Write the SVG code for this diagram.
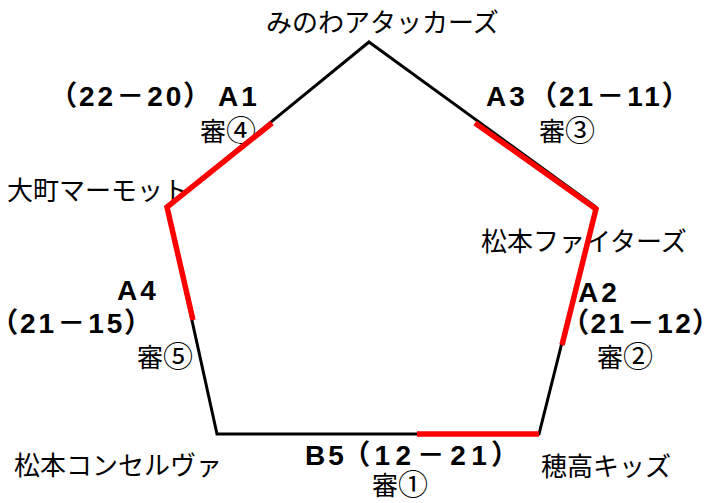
<svg xmlns="http://www.w3.org/2000/svg" width="709" height="503" viewBox="0 0 709 503">
<style>
.name{font-family:"Noto Sans CJK JP","Noto Sans CJK SC",sans-serif;font-size:26px;fill:#000}
.circ{font-size:30px}
.score{font-family:"Liberation Sans","Noto Sans CJK JP",sans-serif;font-size:28px;font-weight:bold;fill:#000;letter-spacing:3px;font-feature-settings:"palt"}
.edge{stroke:#000;stroke-width:3;fill:none;stroke-linecap:butt}
.win{stroke:#ff0000;stroke-width:5.5;fill:none;stroke-linecap:butt}
</style>
<rect width="709" height="503" fill="#fff"/>
<g id="node-minowa"><text class="name" x="266" y="32">みのわアタッカーズ</text></g>
<g id="node-omachi"><text class="name" x="7" y="200">大町マーモット</text></g>
<g id="node-fighters"><text class="name" x="481" y="251">松本ファイターズ</text></g>
<g id="node-hotaka"><text class="name" x="541" y="476">穂高キッズ</text></g>
<g id="node-conserva"><text class="name" x="14" y="475">松本コンセルヴァ</text></g>
<g id="match-A1"><text class="score" x="62" y="106">（22－20）</text><text class="score" x="218" y="106">A1</text><text class="name" x="200" y="141">審<tspan class="circ">④</tspan></text></g>
<g id="match-A3"><text class="score" x="486" y="106">A3</text><text class="score" x="542" y="106">（21－11）</text><text class="name" x="539" y="141">審<tspan class="circ">③</tspan></text></g>
<g id="match-A2"><text class="score" x="578" y="302">A2</text><text class="score" x="574" y="333" style="letter-spacing:2.5px">（21－12）</text><text class="name" x="597" y="367">審<tspan class="circ">②</tspan></text></g>
<g id="match-A4"><text class="score" x="117" y="300">A4</text><text class="score" x="3" y="333">（21－15）</text><text class="name" x="137" y="367">審<tspan class="circ">⑤</tspan></text></g>
<g id="match-B5"><text class="score" x="305" y="465">B5</text><text class="score" x="355" y="465" style="letter-spacing:5.5px">（12－21）</text><text class="name" x="372" y="495">審<tspan class="circ">①</tspan></text></g>
<g id="connectors">
<polygon class="edge" points="369,42 596,207 539,434 217,434 167,207"/>
<polyline class="win" points="272,123 167,207 193,320"/>
<polyline class="win" points="475,123 596,209 562,345"/>
<line class="win" x1="417" y1="434" x2="539" y2="434"/>
</g>
</svg>
